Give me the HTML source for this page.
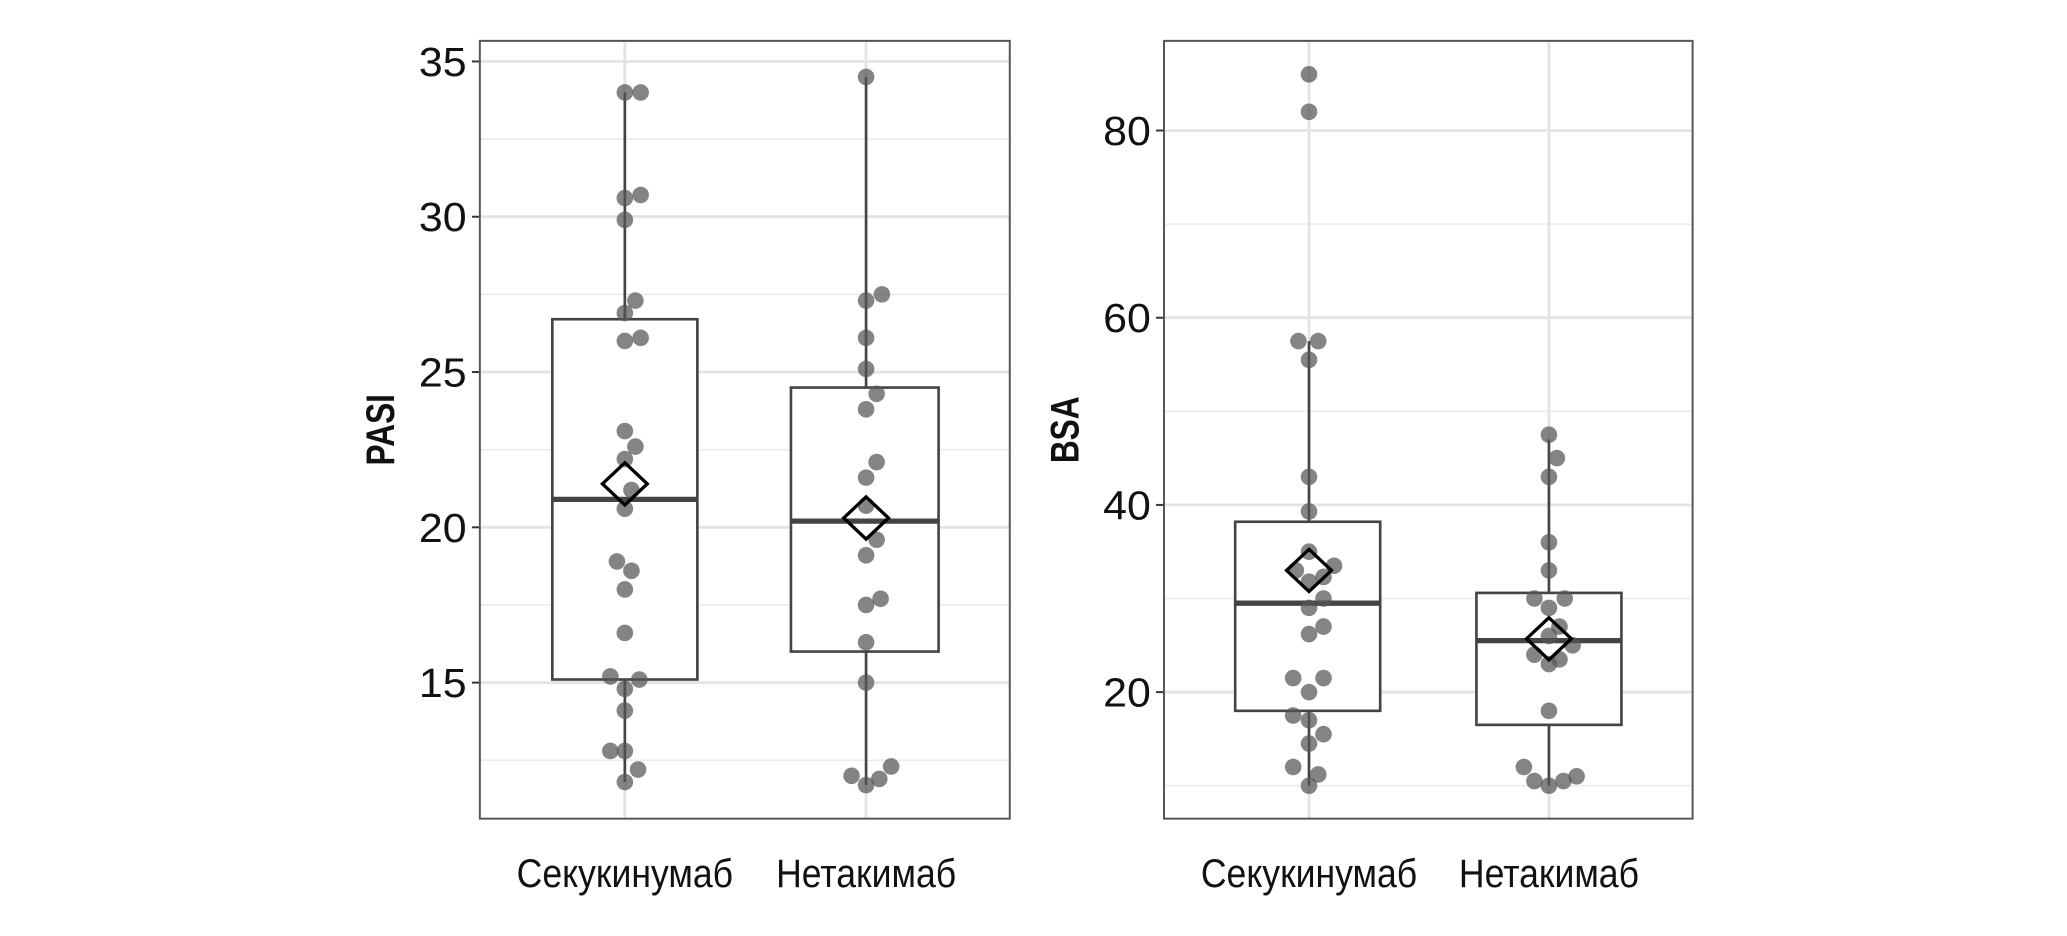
<!DOCTYPE html>
<html><head><meta charset="utf-8"><style>
html,body{margin:0;padding:0;background:#fff;}
svg{display:block;}
text{font-family:"Liberation Sans Narrow","Liberation Sans",sans-serif;}
</style></head><body>
<svg id="s" width="2067" height="936" viewBox="0 0 1568 710" preserveAspectRatio="none" xmlns="http://www.w3.org/2000/svg"></svg>
<script>
const s=document.getElementById('s');let h='<rect width="1568" height="710" fill="#fff"/>';
function T(x,y,str,fs,anchor,sx){return `<text transform="translate(${x},${y}) scale(${sx},1)" font-size="${fs}" text-anchor="${anchor}" fill="#111">${str}</text>`;}
function panel(o){
 const {x0,x1,y0,y1,fy,ticks,minors,cats,boxes,pts,label}=o;
 minors.forEach(v=>h+=`<line x1="${x0}" x2="${x1}" y1="${fy(v)}" y2="${fy(v)}" stroke="#ebebeb" stroke-width="1.2"/>`);
 ticks.forEach(v=>h+=`<line x1="${x0}" x2="${x1}" y1="${fy(v)}" y2="${fy(v)}" stroke="#e4e4e4" stroke-width="2.2"/><line x1="${x0-6}" x2="${x0}" y1="${fy(v)}" y2="${fy(v)}" stroke="#333" stroke-width="1.5"/>`+T(x0-10,fy(v)+11,v,31,'end',1.05));
 cats.forEach(c=>h+=`<line x1="${c}" x2="${c}" y1="${y0}" y2="${y1}" stroke="#e4e4e4" stroke-width="2.2"/>`);
 boxes.forEach(b=>{const c=b.c;
  h+=`<line x1="${c}" x2="${c}" y1="${fy(b.lo)}" y2="${fy(b.hi)}" stroke="#444" stroke-width="2"/>`;
  h+=`<rect x="${b.l}" y="${fy(b.q3)}" width="${b.r-b.l}" height="${fy(b.q1)-fy(b.q3)}" fill="#fff" stroke="#444" stroke-width="2"/>`;
  h+=`<line x1="${b.l}" x2="${b.r}" y1="${fy(b.md)}" y2="${fy(b.md)}" stroke="#444" stroke-width="4"/>`;});
 pts.forEach(p=>h+=`<circle cx="${p[1]}" cy="${fy(p[0])}" r="6.3" fill="#555" fill-opacity="0.72"/>`);
 boxes.forEach(b=>{const y=fy(b.mn),c=b.c;h+=`<polygon points="${c},${y-16} ${c+17},${y} ${c},${y+16} ${c-17},${y}" fill="none" stroke="#000" stroke-width="2.5"/>`;});
 h+=`<rect x="${x0}" y="${y0}" width="${x1-x0}" height="${y1-y0}" fill="none" stroke="#555" stroke-width="1.5"/>`;
 h+=T(cats[0],673,'Секукинумаб',30,'middle',0.9)+T(cats[1],673,'Нетакимаб',30,'middle',0.9);
 h+=`<text transform="translate(${x0-65},${(y0+y1)/2}) rotate(-90) scale(0.8,1)" font-size="30" font-weight="bold" text-anchor="middle" fill="#111">${label}</text>`;
}
panel({x0:364,x1:766,y0:31,y1:621,fy:v=>400-(v-20)*23.56,ticks:[15,20,25,30,35],minors:[12.5,17.5,22.5,27.5,32.5],cats:[474,657],label:'PASI',
 boxes:[{c:474,l:419,r:529,q3:26.7,q1:15.1,md:20.9,mn:21.4,lo:11.8,hi:34},{c:657,l:600,r:712,q3:24.5,q1:16,md:20.2,mn:20.3,lo:11.7,hi:34.5}],
 pts:[[34,474],[34,486],[30.6,474],[30.7,486],[29.9,474],[27.3,482],[26.9,474],[26,474],[26.1,486],[23.1,474],[22.6,482],[22.2,474],[21.2,479],[20.6,474],[18.9,468],[18.6,479],[18,474],[16.6,474],[15.2,463],[15.1,485],[14.8,474],[14.1,474],[12.8,463],[12.8,474],[12.2,484],[11.8,474],
 [34.5,657],[27.5,669],[27.3,657],[26.1,657],[25.1,657],[24.3,665],[23.8,657],[22.1,665],[21.6,657],[20.7,657],[19.6,665],[19.1,657],[17.7,668],[17.5,657],[16.3,657],[15,657],[12.3,676],[12,646],[11.9,667],[11.7,657]]});
panel({x0:883,x1:1284,y0:31,y1:621,fy:v=>525-(v-20)*7.1,ticks:[20,40,60,80],minors:[10,30,50,70],cats:[993,1175],label:'BSA',
 boxes:[{c:993,l:937,r:1047,q3:38.2,q1:18,md:29.5,mn:33,lo:10,hi:57.5},{c:1175,l:1120,r:1230,q3:30.6,q1:16.5,md:25.5,mn:25.7,lo:10,hi:47}],
 pts:[[86,993],[82,993],[57.5,985],[57.5,1000],[55.5,993],[43,993],[39.3,993],[35,993],[33.5,1012],[33,983],[32.3,1004],[31.8,993],[30,1004],[29,993],[26.2,993],[27,1004],[21.5,981],[21.5,1004],[20,993],[17.5,981],[17,993],[15.5,1004],[14.5,993],[12,981],[11.2,1000],[10,993],
 [47.5,1175],[45,1181],[43,1175],[36,1175],[33,1175],[30,1164],[30,1187],[29,1175],[27,1183],[26,1175],[25,1193],[24,1164],[23.5,1183],[23,1175],[18,1175],[12,1156],[10.5,1164],[10,1175],[10.5,1186],[11,1196]]});
s.innerHTML=h;
</script>
</body></html>
